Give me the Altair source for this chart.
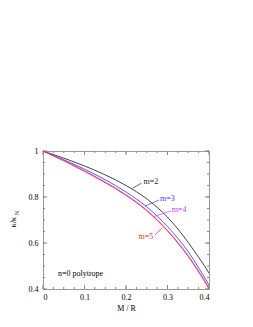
import altair as alt
import pandas as pd

# ---- data ----
x_vals = [0, 0.05, 0.1, 0.15, 0.2, 0.25, 0.3, 0.325, 0.35, 0.375, 0.39, 0.4]
m2 = [1, 0.969, 0.935, 0.896, 0.850, 0.792, 0.712, 0.661, 0.602, 0.538, 0.498, 0.469]
m3 = [1, 0.962, 0.921, 0.875, 0.822, 0.757, 0.672, 0.620, 0.562, 0.492, 0.448, 0.416]
m4 = [1, 0.960, 0.914, 0.865, 0.810, 0.743, 0.655, 0.603, 0.545, 0.478, 0.435, 0.404]
m5 = [1, 0.957, 0.911, 0.862, 0.807, 0.740, 0.652, 0.600, 0.541, 0.474, 0.431, 0.400]

series = ["m=2", "m=3", "m=4", "m=5"]
line_colors = ["#222222", "#3a3aff", "#c040f0", "#ff2a2a"]
text_colors = ["#333333", "#4a4aff", "#b848e0", "#ff3030"]

# label annotations (text anchor and pointer in data units)
lab_x = [0.242, 0.282, 0.310, 0.230]
lab_y = [0.867, 0.791, 0.743, 0.627]
ptr_x1 = [0.237, 0.280, 0.308, 0.270]
ptr_y1 = [0.860, 0.787, 0.739, 0.635]
ptr_x2 = [0.216, 0.246, 0.266, 0.286]
ptr_y2 = [0.838, 0.761, 0.714, 0.664]

x_major = [0, 0.1, 0.2, 0.3, 0.4]
x_minor = [i * 0.025 for i in range(17)]
y_major = [0.4, 0.6, 0.8, 1.0]
y_minor = [0.4 + i * 0.05 for i in range(13)]

W, H = 166, 138
FONT = "Liberation Serif"

rows = []
for name, vals in zip(series, [m2, m3, m4, m5]):
    for xv, yv in zip(x_vals, vals):
        rows.append({"x": xv, "y": yv, "m": name})
df = pd.DataFrame(rows)

xs = alt.Scale(domain=[0, 0.4], nice=False)
ys = alt.Scale(domain=[0.4, 1.0], nice=False)
cs = alt.Scale(domain=series, range=line_colors)
ts = alt.Scale(domain=series, range=text_colors)

XAX = alt.Axis(values=x_major, format=".1~f", grid=False, ticks=False,
               domain=False, labelFont=FONT, labelFontSize=8,
               labelPadding=4, titleFont=FONT, titleFontSize=8,
               titleFontWeight="normal", titlePadding=3, labelColor="#000",
               titleColor="#000")
YAX = alt.Axis(values=y_major, format=".1~f", grid=False, ticks=False,
               domain=False, labelFont=FONT, labelFontSize=8,
               labelPadding=5, labelColor="#000")


def X(field):
    return alt.X(field, scale=xs, axis=XAX, title="M / R")


def Y(field):
    return alt.Y(field, scale=ys, axis=YAX, title="")


lines = alt.Chart(df).mark_line(interpolate="monotone", strokeWidth=0.85).encode(
    x=X("x:Q"), y=Y("y:Q"),
    color=alt.Color("m:N", scale=cs, legend=None),
)

ann = pd.DataFrame({"m": series, "lx": lab_x, "ly": lab_y,
                    "x1": ptr_x1, "y1": ptr_y1, "x2": ptr_x2, "y2": ptr_y2})

pointers = alt.Chart(ann).mark_rule(strokeWidth=0.7).encode(
    x=X("x1:Q"), y=Y("y1:Q"), x2="x2:Q", y2="y2:Q",
    color=alt.Color("m:N", scale=ts, legend=None),
)

labels = alt.Chart(ann).mark_text(align="left", baseline="middle", font=FONT,
                                  fontSize=8).encode(
    x=X("lx:Q"), y=Y("ly:Q"), text="m:N",
    color=alt.Color("m:N", scale=ts, legend=None),
)

TICK = "#888888"


def xticks(vals, length):
    d = pd.DataFrame({"t": vals})
    b = alt.Chart(d).mark_rule(color=TICK, strokeWidth=1).encode(
        x=X("t:Q"), y=alt.value(H), y2=alt.value(H - length))
    t = alt.Chart(d).mark_rule(color=TICK, strokeWidth=1).encode(
        x=X("t:Q"), y=alt.value(0), y2=alt.value(length))
    return b + t


def yticks(vals, length):
    d = pd.DataFrame({"t": vals})
    l = alt.Chart(d).mark_rule(color=TICK, strokeWidth=1).encode(
        y=Y("t:Q"), x=alt.value(0), x2=alt.value(length))
    r = alt.Chart(d).mark_rule(color=TICK, strokeWidth=1).encode(
        y=Y("t:Q"), x=alt.value(W), x2=alt.value(W - length))
    return l + r


note = alt.Chart(pd.DataFrame({"x": [0.036], "y": [0.465], "t": ["n=0 polytrope"]})).mark_text(
    align="left", baseline="middle", font=FONT, fontSize=8, color="#000").encode(
    x=X("x:Q"), y=Y("y:Q"), text="t:N")

ytitle_main = alt.Chart(pd.DataFrame({"t": ["κ/κ"]})).mark_text(
    angle=270, align="center", baseline="middle", font=FONT, fontSize=8, color="#000").encode(
    x=alt.value(-29), y=alt.value(H / 2 + 2), text="t:N")
ytitle_sub = alt.Chart(pd.DataFrame({"t": ["N"]})).mark_text(
    angle=270, align="center", baseline="middle", font=FONT, fontSize=6, color="#000").encode(
    x=alt.value(-26.5), y=alt.value(H / 2 - 7), text="t:N")

chart = alt.layer(
    lines, xticks(x_minor, 2), xticks(x_major, 4), yticks(y_minor, 2), yticks(y_major, 4),
    pointers, labels, note, ytitle_main, ytitle_sub,
).properties(
    width=W, height=H,
    autosize=alt.AutoSizeParams(type="none"),
    padding={"left": 35, "top": 143, "right": 30, "bottom": 28},
).configure_view(stroke="#999999", strokeWidth=1)

chart.save("out.html", embed_options={"renderer": "svg", "actions": False})
